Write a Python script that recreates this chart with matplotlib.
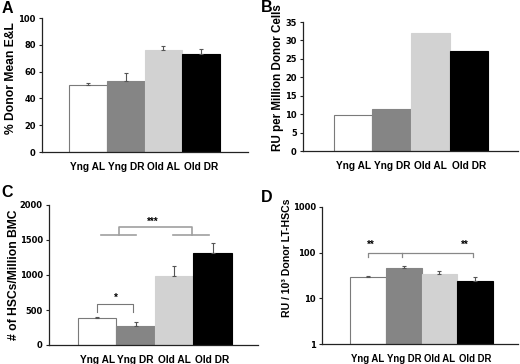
import numpy as np
import matplotlib
matplotlib.use('Agg')
import matplotlib.pyplot as plt
from matplotlib import font_manager
from matplotlib.font_manager import FontProperties

groups = ['Yng AL', 'Yng DR', 'Old AL', 'Old DR']
bar_colors = ['white', '#858585', '#d2d2d2', 'black']
edge_colors = ['#7a7a7a', '#858585', '#d2d2d2', 'black']

# panel A
engraft_mean = [50.0, 53.3, 76.0, 73.0]
engraft_err = [1.5, 6.0, 3.3, 4.0]
# panel B
ru_per_million = [9.9, 11.3, 32.1, 27.0]
# panel C
hsc_per_million = [381, 271, 990, 1320]
hsc_err = [25, 62, 132, 132]
# panel D
ru_per_lthsc = [28.9, 46.1, 34.1, 23.6]
ru_lthsc_err = [2.4, 4.9, 4.9, 5.3]

plt.rcParams['font.family'] = ['Liberation Sans', 'DejaVu Sans']
plt.rcParams['font.weight'] = 'bold'


def find_narrow():
    """look for a bold condensed face for the squeezed tick numbers"""
    best = None
    for f in font_manager.fontManager.ttflist:
        narrow = 'Narrow' in f.name or 'Condensed' in f.name or f.stretch in ('condensed', 'semi-condensed')
        if narrow and f.weight in ('bold', 700):
            if 'Liberation' in f.name:
                return f.fname
            best = best or f.fname
    return best


narrow_file = find_narrow()
if narrow_file:
    tick_prop = FontProperties(fname=narrow_file, size=6.7)
else:
    tick_prop = FontProperties(family='Liberation Sans', weight='bold', size=6)

W, H = 520, 364
fig = plt.figure(figsize=(W / 100, H / 100), dpi=100)


def px_axes(left, top, right, bottom):
    return fig.add_axes([left / W, 1 - bottom / H, (right - left) / W, (bottom - top) / H])


def style_axes(ax, xlim, label_size=7.3):
    ax.spines['top'].set_visible(False)
    ax.spines['right'].set_visible(False)
    for s in ('left', 'bottom'):
        ax.spines[s].set_linewidth(0.9)
        ax.spines[s].set_color('#222222')
    ax.set_xlim(*xlim)
    ax.set_xticks(range(len(groups)))
    ax.set_xticklabels(groups, fontsize=label_size, fontweight='bold')
    ax.tick_params(axis='x', length=0, pad=7)
    ax.tick_params(axis='y', direction='out', length=2.5, width=0.8, pad=2, color='#222222')
    for lab in ax.get_yticklabels():
        lab.set_fontproperties(tick_prop)


def draw_bars(ax, vals, err=None, bottom=0):
    x = np.arange(len(groups))
    ax.bar(x, np.array(vals) - bottom, bottom=bottom, width=1.0, color=bar_colors,
           edgecolor=edge_colors, linewidth=0.8, zorder=2)
    if err is not None:
        ax.errorbar(x, vals, yerr=[np.zeros(len(err)), err], fmt='none',
                    ecolor='#555555', elinewidth=0.8, capsize=1.5, capthick=0.8, zorder=3)


def ylabel(ax, text, x, y, size=8.7):
    ax.text(x, y, text, transform=ax.transAxes, rotation=90, ha='center', va='center',
            fontsize=size, fontweight='bold')


# A
axA = px_axes(42, 18, 248, 152)
draw_bars(axA, engraft_mean, engraft_err)
axA.set_ylim(0, 100)
axA.set_yticks([0, 20, 40, 60, 80, 100])
style_axes(axA, (-1.22, 4.24))
ylabel(axA, '% Donor Mean E&L', -0.15, 0.55)

# B
axB = px_axes(303, 22, 518, 151)
draw_bars(axB, ru_per_million)
axB.set_ylim(0, 35)
axB.set_yticks(range(0, 36, 5))
style_axes(axB, (-1.3, 4.27))
ylabel(axB, 'RU per Million Donor Cells', -0.117, 0.566, size=8.4)

# C
axC = px_axes(49, 205, 258, 345)
draw_bars(axC, hsc_per_million, hsc_err)
axC.set_ylim(0, 2000)
axC.set_yticks([0, 500, 1000, 1500, 2000])
style_axes(axC, (-1.25, 4.18))
ylabel(axC, '# of HSCs/Million BMC', -0.167, 0.5)
gray = '#a0a0a0'
axC.plot([0, 0, 0.94, 0.94], [476, 586, 586, 476], color='#777777', lw=0.8)
axC.text(0.49, 600, '*', ha='center', va='bottom', fontsize=7, fontweight='bold')
axC.plot([0.1, 1.0], [1576, 1576], color=gray, lw=1.2)
axC.plot([1.98, 2.9], [1576, 1576], color=gray, lw=1.2)
axC.plot([0.58, 0.58, 2.46, 2.46], [1576, 1681, 1681, 1576], color=gray, lw=1.2)
axC.text(1.44, 1690, '***', ha='center', va='bottom', fontsize=7, fontweight='bold')

# D
axD = px_axes(322, 207, 518, 344)
axD.set_yscale('log')
draw_bars(axD, ru_per_lthsc, ru_lthsc_err, bottom=1)
axD.set_ylim(1, 1000)
axD.set_yticks([1, 10, 100, 1000])
axD.set_yticklabels(['1', '10', '100', '1000'])
axD.minorticks_off()
style_axes(axD, (-1.29, 4.2), label_size=6.9)
ylabel(axD, 'RU / 10³ Donor LT-HSCs', -0.179, 0.628, size=7.6)
axD.plot([0, 0, 2.93, 2.93], [79, 97, 97, 79], color='#888888', lw=0.9)
axD.plot([0.96, 0.96], [97, 79], color='#888888', lw=0.9)
axD.text(0.08, 118, '**', ha='center', va='bottom', fontsize=7, fontweight='bold')
axD.text(2.72, 118, '**', ha='center', va='bottom', fontsize=7, fontweight='bold')

# panel letters
for letter, (lx, ly) in zip('ABCD', [(2, 1), (261, 0), (1, 185), (261, 190)]):
    fig.text(lx / W, 1 - ly / H, letter, ha='left', va='top', fontsize=11.5, fontweight='bold')

fig.savefig('out.png', dpi=100)
